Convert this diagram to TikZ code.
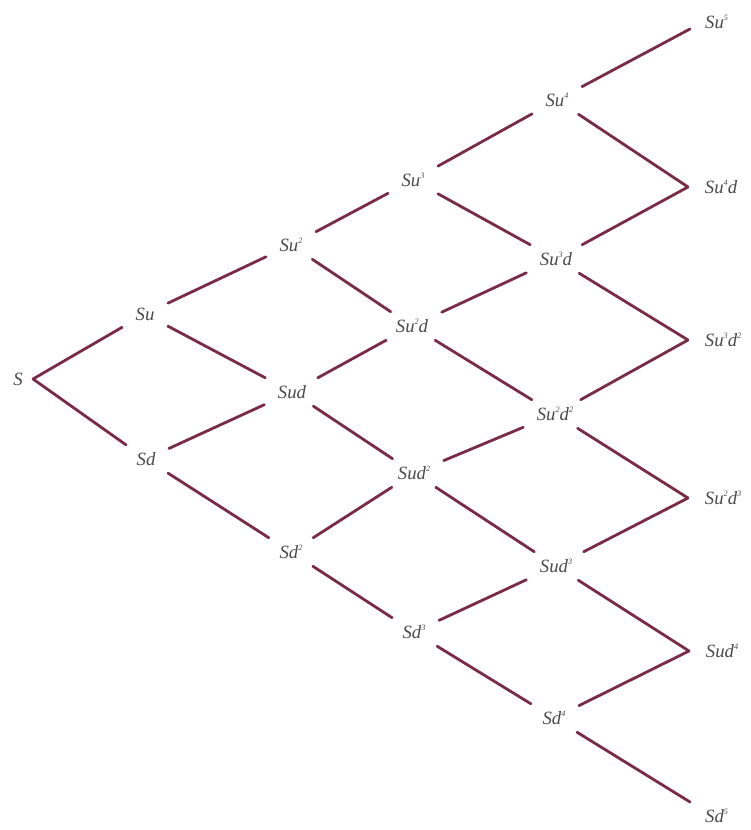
\documentclass[tikz,border=0pt]{standalone}
\usepackage{fontspec}
\setmainfont{Liberation Serif}
\usetikzlibrary{positioning}
\definecolor{branchred}{HTML}{7A2B46}
\definecolor{labgray}{HTML}{4A4A4A}
\tikzset{
    price/.style={
        font=\fontsize{16}{19}\selectfont\itshape, text=labgray,
        inner xsep=4mm, inner ysep=2.2mm
    },
    leaf/.style={price, inner xsep=5mm, inner ysep=0pt, anchor=west},
    branch/.style={line width=2.4pt, color=branchred, line cap=round}
}
\newcommand{\pw}[1]{\raisebox{0.9ex}{\fontsize{7}{8}\selectfont #1}}
\begin{document}
\begin{tikzpicture}[x=0.3mm, y=-0.3mm]

\useasboundingbox (0,0) rectangle (750,830);

% root
\node[price, anchor=east, inner xsep=3mm] (S) at (33,379) {S};

% step 1
\node[price] (Su) at (145,314) {Su};
\node[price] (Sd) at (146,459) {Sd};

% step 2
\node[price] (Su2) at (291,245) {Su\pw{2}};
\node[price] (Sud) at (292,392) {Sud};
\node[price] (Sd2) at (291,552) {Sd\pw{2}};

% step 3
\node[price] (Su3) at (413,180) {Su\pw{3}};
\node[price] (Su2d) at (412,326) {Su\pw{2}d};
\node[price] (Sud2) at (414,473) {Sud\pw{2}};
\node[price] (Sd3) at (414,632) {Sd\pw{3}};

% step 4
\node[price] (Su4) at (557,100) {Su\pw{4}};
\node[price] (Su3d) at (556,259) {Su\pw{3}d};
\node[price] (Su2d2) at (555,414) {Su\pw{2}d\pw{2}};
\node[price] (Sud3) at (556,566) {Sud\pw{3}};
\node[price] (Sd4) at (554,718) {Sd\pw{4}};

% step 5, the lines end at the west side
\node[leaf, anchor=south west, inner xsep=4.5mm] (Su5) at (690,29) {Su\pw{5}};
\node[leaf] (Su4d) at (688,187) {Su\pw{4}d};
\node[leaf] (Su3d2) at (688,340) {Su\pw{3}d\pw{2}};
\node[leaf] (Su2d3) at (688,498) {Su\pw{2}d\pw{3}};
\node[leaf] (Sud4) at (689,651) {Sud\pw{4}};
\node[leaf, anchor=north west, inner xsep=4.5mm, inner ysep=2mm] (Sd5) at (690,802) {Sd\pw{5}};

\foreach \a/\b in {S.east/Su, S.east/Sd,
    Su/Su2, Su/Sud, Sd/Sud, Sd/Sd2,
    Su2/Su3, Su2/Su2d, Sud/Su2d, Sud/Sud2, Sd2/Sud2, Sd2/Sd3,
    Su3/Su4, Su3/Su3d, Su2d/Su3d, Su2d/Su2d2, Sud2/Su2d2, Sud2/Sud3, Sd3/Sud3, Sd3/Sd4,
    Su4/Su5.south west, Su4/Su4d.west, Su3d/Su4d.west, Su3d/Su3d2.west,
    Su2d2/Su3d2.west, Su2d2/Su2d3.west, Sud3/Su2d3.west, Sud3/Sud4.west,
    Sd4/Sud4.west, Sd4/Sd5.north west} {
  \draw[branch] (\a) -- (\b);
}

\end{tikzpicture}
\end{document}
